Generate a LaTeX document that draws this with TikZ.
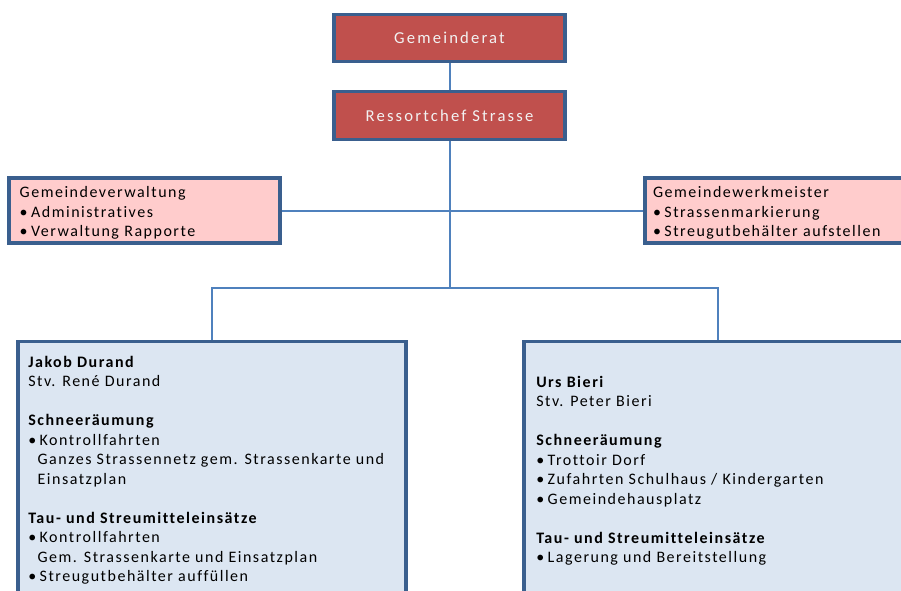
\documentclass[tikz,border=0pt]{standalone}
\usepackage{fontspec}
\setmainfont[LetterSpace=9.5,Ligatures=NoCommon]{Carlito}
\newfontfamily\headfont[LetterSpace=13,Ligatures=NoCommon]{Carlito}
\newcommand\mybul{\textbullet\hspace{2.6pt}}
\definecolor{boxborder}{HTML}{3A5F8E}
\definecolor{linkblue}{HTML}{4F81BD}
\definecolor{redfill}{HTML}{C0504D}
\definecolor{pinkfill}{HTML}{FFCCCC}
\definecolor{bluefill}{HTML}{DCE6F2}
\begin{document}
\begin{tikzpicture}[x=0.75pt,y=-0.75pt,
  box/.style={draw=boxborder, line width=2.4pt, rectangle, inner sep=0pt},
  redbox/.style={box, fill=redfill, text=white!95!black, minimum width=173.25pt, minimum height=35.5pt, font=\headfont\fontsize{12.5}{14.6}\selectfont},
  pinkbox/.style={box, fill=pinkfill, minimum width=203.25pt, minimum height=48.75pt, align=left, font=\fontsize{12}{14.6}\selectfont},
  bluebox/.style={box, fill=bluefill, minimum width=291pt, minimum height=209pt},
  link/.style={draw=linkblue, line width=1.5pt},
  txt/.style={anchor=north west, align=left, inner sep=0pt, font=\fontsize{12}{14.6}\selectfont}
]
\path[use as bounding box] (0,0) rectangle (901,590);
\clip (0,0) rectangle (901,590);

\node[redbox] (gr) at (449.5,38) {Gemeinderat};
\node[redbox] (rs) at (449.5,115.5) {Ressortchef Strasse};

\node[pinkbox, inner xsep=8pt, text width=187.25pt] (gv) at (144.5,210.5)
  {\rule{0pt}{12pt}Gemeindeverwaltung\\\mybul Administratives\\\mybul Verwaltung Rapporte};
\node[pinkbox, inner xsep=6pt, text width=191.25pt] (gw) at (780.5,210.5)
  {\rule{0pt}{12pt}Gemeindewerkmeister\\\mybul Strassenmarkierung\\\mybul Streugutbehälter aufstellen};

\node[bluebox] (jd) at (212,480.5) {};
\node[bluebox] (ub) at (718,480.5) {};

\coordinate (bus) at (449.5,288);

\draw[link] (gr) -- (rs);
\draw[link] (gv.east) -- (gw.west);
\draw[link] (rs.south) -- (bus);
\draw[link] (jd.north) |- (bus) -| (ub.north);

\node[txt] (jdtext) at (28,356)
  {\bfseries Jakob Durand\\
   Stv. René Durand\\[14.6pt]
   \bfseries Schneeräumung\\
   \mybul Kontrollfahrten\\
   \hspace*{7pt}Ganzes Strassennetz gem. Strassenkarte und\\
   \hspace*{7pt}Einsatzplan\\[14.6pt]
   \bfseries Tau- und Streumitteleinsätze\\
   \mybul Kontrollfahrten\\
   \hspace*{7pt}Gem. Strassenkarte und Einsatzplan\\
   \mybul Streugutbehälter auffüllen};

\node[txt] (ubtext) at (536,376)
  {\bfseries Urs Bieri\\
   Stv. Peter Bieri\\[14.6pt]
   \bfseries Schneeräumung\\
   \mybul Trottoir Dorf\\
   \mybul Zufahrten Schulhaus / Kindergarten\\
   \mybul Gemeindehausplatz\\[14.6pt]
   \bfseries Tau- und Streumitteleinsätze\\
   \mybul Lagerung und Bereitstellung};
\end{tikzpicture}
\end{document}
